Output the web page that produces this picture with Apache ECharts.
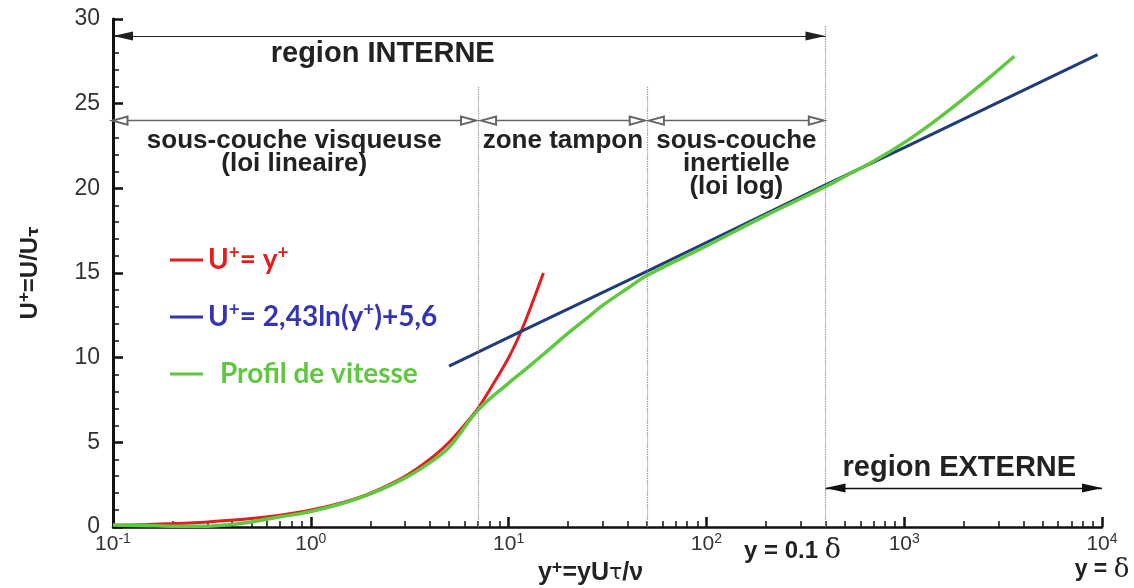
<!DOCTYPE html>
<html><head><meta charset="utf-8">
<script src="https://cdn.jsdelivr.net/npm/echarts@6/dist/echarts.min.js"></script>
<style>html,body{margin:0;padding:0;background:#fff}#c{width:1134px;height:588px}</style>
</head><body><div id="c"></div>
<script>
// ---- data ----
const yTicks = [0, 5, 10, 15, 20, 25, 30];
const linearX = [0.1, 0.15, 0.2, 0.3, 0.5, 0.7, 1, 1.5, 2, 3, 4, 5, 7, 10, 12, 15];
const linearY = [0.1, 0.15, 0.2, 0.3, 0.5, 0.7, 1, 1.5, 2, 3, 4, 5, 7, 10, 12, 15];
const logLawX = [5, 10, 50, 100, 400, 1000, 9500];
const logLawY = [9.5, 11.2, 15.1, 16.8, 20.2, 22.4, 27.9];
const profileX = [0.1, 0.15, 0.2, 0.3, 0.4, 0.5, 0.7, 1, 1.5, 2, 3, 4, 5, 7, 10, 12, 15, 20, 25, 30, 40, 50, 100, 200, 400, 500, 700, 1000, 1400, 2000, 2800, 3600];
const profileY = [0.12, 0.08, 0.05, 0.05, 0.15, 0.3, 0.6, 0.92, 1.45, 1.95, 2.9, 3.8, 4.7, 6.9, 8.5, 9.25, 10.2, 11.45, 12.35, 13.1, 14.1, 14.85, 16.6, 18.4, 20.1, 20.7, 21.6, 22.7, 23.9, 25.3, 26.7, 27.8];
const zoneBounds = [7, 50, 400];
const zoneTops = [26, 26, 29.6];
const seriesNames = ['U+= y+', 'U+= 2,43ln(y+)+5,6', 'Profil de vitesse'];
const legendRich = {
  'U+= y+': '{b|U}{s|+}{b|= y}{s|+}',
  'U+= 2,43ln(y+)+5,6': '{b|U}{s|+}{b|= 2,43ln(y}{s|+}{b|)+5,6}',
  'Profil de vitesse': '{p|Profil de vitesse}'
};

const RED = '#e41e1e', NAVY = '#1f3d78', LBLUE = '#3434b4', GREEN = '#5ec83f';
const zip = (xs, ys) => xs.map((x, i) => [x, ys[i]]);
const TXT = '#222';
const AF = 'Liberation Sans';

const filled = (c) => ({ coord: c, symbol: 'triangle', symbolSize: [9, 20], symbolOffset: [0, 10] });
const hollow = (c) => ({ coord: c, symbol: 'emptyTriangle', symbolSize: [8, 15], symbolOffset: [0, 7] });
const annLabel = (txt, pos) => ({ show: true, position: pos, formatter: txt, fontFamily: AF, fontWeight: 'bold', fontSize: 26, color: TXT, lineHeight: 23, distance: 9 });

const chart = echarts.init(document.getElementById('c'), null, { renderer: 'canvas' });
chart.setOption({
  backgroundColor: '#fff',
  animation: false,
  grid: { left: 113, right: 32, top: 19, bottom: 61, outerBoundsMode: 'none', containLabel: false },
  legend: {
    orient: 'vertical', left: 165, top: 238, itemGap: 23,
    icon: 'rect', itemWidth: 33, itemHeight: 3,
    selectedMode: false,
    data: [
      { name: seriesNames[0], itemStyle: { color: RED }, textStyle: { color: RED } },
      { name: seriesNames[1], itemStyle: { color: LBLUE }, textStyle: { color: LBLUE } },
      { name: seriesNames[2], itemStyle: { color: GREEN }, textStyle: { color: GREEN } }
    ],
    formatter: n => legendRich[n],
    textStyle: {
      fontFamily: 'Lato', fontWeight: 'bold', fontSize: 28, lineHeight: 34,
      rich: {
        b: { fontFamily: 'Lato', fontWeight: 'bold', fontSize: 28, lineHeight: 34 },
        p: { fontFamily: 'Lato', fontWeight: 'bold', fontSize: 28, lineHeight: 34, padding: [0, 0, 0, 12] },
        s: { fontFamily: 'Lato', fontWeight: 'bold', fontSize: 19, padding: [0, 0, 14, 0] }
      }
    }
  },
  xAxis: {
    type: 'log', logBase: 10, min: 0.1, max: 10000,
    axisLine: { lineStyle: { color: '#111', width: 2.5 } },
    axisTick: { inside: true, length: 10, lineStyle: { color: '#111', width: 2.5 } },
    minorTick: { show: true, splitNumber: 9, length: 6, lineStyle: { color: '#111', width: 1.5 } },
    splitLine: { show: false },
    axisLabel: {
      margin: 5, showMaxLabel: true, showMinLabel: true,
      formatter: v => {
        const e = Math.round(Math.log10(v));
        let s = '{n|10}{s|' + e + '}';
        if (e === 4) s += '\n{y|y = }{d|δ}';
        return s;
      },
      rich: {
        n: { fontFamily: AF, fontSize: 21, color: '#333' },
        s: { fontFamily: AF, fontSize: 14, color: '#333', padding: [0, 0, 10, 0] },
        y: { fontFamily: AF, fontSize: 23, fontWeight: 'bold', color: TXT, lineHeight: 28 },
        d: { fontFamily: 'DejaVu Serif', fontSize: 26, color: TXT, lineHeight: 28 }
      }
    },
    name: '{b|y}{s|+}{b|=yU}{t|τ}{b|/ν}',
    nameLocation: 'middle', nameGap: 32, nameMoveOverlap: false,
    nameTextStyle: {
      padding: [0, 34, 0, 0],
      rich: {
        b: { fontFamily: AF, fontWeight: 'bold', fontSize: 25, color: TXT },
        s: { fontFamily: AF, fontWeight: 'bold', fontSize: 18, color: TXT, padding: [0, 0, 11, 0] },
        t: { fontFamily: 'DejaVu Sans', fontSize: 22, color: TXT }
      }
    }
  },
  yAxis: {
    type: 'value', min: yTicks[0], max: yTicks[yTicks.length - 1], interval: 5,
    axisLine: { show: true, lineStyle: { color: '#111', width: 3 } },
    axisTick: { show: true, inside: true, length: 10, lineStyle: { color: '#111', width: 2.5 } },
    minorTick: { show: true, splitNumber: 5, length: 6, lineStyle: { color: '#111', width: 1.5 } },
    splitLine: { show: false },
    axisLabel: { margin: 13, fontFamily: AF, fontSize: 23, color: '#333' },
    name: '{b|U}{s|+}{b|=U/U}{t|τ}',
    nameLocation: 'middle', nameRotate: 90, nameGap: 68, nameMoveOverlap: false,
    nameTextStyle: {
      rich: {
        b: { fontFamily: AF, fontWeight: 'bold', fontSize: 24, color: TXT },
        s: { fontFamily: AF, fontWeight: 'bold', fontSize: 17, color: TXT, padding: [0, 0, 12, 0] },
        t: { fontFamily: 'DejaVu Sans', fontWeight: 'bold', fontSize: 16, color: TXT, padding: [6, 0, 0, 0] }
      }
    }
  },
  series: [
    {
      name: seriesNames[0], type: 'line', data: zip(linearX, linearY), showSymbol: false, smooth: 0.2,
      lineStyle: { color: RED, width: 3 }, itemStyle: { color: RED }, z: 3
    },
    {
      name: seriesNames[1], type: 'line', data: zip(logLawX, logLawY), showSymbol: false,
      lineStyle: { color: NAVY, width: 3 }, itemStyle: { color: NAVY }, z: 3
    },
    {
      name: seriesNames[2], type: 'line', data: zip(profileX, profileY), showSymbol: false, smooth: 0.35,
      lineStyle: { color: GREEN, width: 3.5 }, itemStyle: { color: GREEN }, z: 4
    },
    {
      name: 'annotations', type: 'line', data: [], silent: true, z: 2,
      markLine: {
        silent: true, animation: false, symbol: 'none',
        lineStyle: { color: '#888', type: 'dotted', width: 1.2 },
        label: { show: false },
        data: zoneBounds.map((b, i) => [{ coord: [b, 0] }, { coord: [b, zoneTops[i]] }])
      }
    },
    {
      name: 'arrows', type: 'line', data: [], silent: true, z: 2,
      markLine: {
        silent: true, animation: false,
        lineStyle: { color: '#666', type: 'solid', width: 1.4 },
        label: { show: false },
        data: [
          [Object.assign(filled([0.1, 29]), { lineStyle: { color: '#222', width: 1.2 } }), filled([400, 29])],
          [Object.assign(hollow([0.1, 24]), { label: annLabel('sous-couche visqueuse\n(loi lineaire)', 'insideMiddleBottom') }), hollow([6.8, 24])],
          [Object.assign(hollow([7.3, 24]), { label: annLabel('zone tampon', 'insideMiddleBottom') }), hollow([48.5, 24])],
          [Object.assign(hollow([51.5, 24]), { label: annLabel('sous-couche\ninertielle\n(loi log)', 'insideMiddleBottom') }), hollow([390, 24])],
          [Object.assign(filled([400, 2.3]), { lineStyle: { color: '#111', width: 1.4 } }), filled([10000, 2.3])]
        ]
      },
      markPoint: {
        silent: true, animation: false, symbol: 'circle', symbolSize: 0,
        data: [
          { coord: [2.31, 27.95], label: { show: true, position: 'inside', formatter: 'region INTERNE', fontFamily: AF, fontWeight: 'bold', fontSize: 29, color: TXT } },
          { coord: [1900, 3.5], label: { show: true, position: 'inside', formatter: 'region EXTERNE', fontFamily: AF, fontWeight: 'bold', fontSize: 29, color: TXT } },
          { coord: [400, 0], label: { show: true, position: 'inside', offset: [-33, 24], formatter: '{y|y = 0.1 }{d|δ}',
              rich: { y: { fontFamily: AF, fontWeight: 'bold', fontSize: 24, color: TXT }, d: { fontFamily: 'DejaVu Serif', fontSize: 27, color: TXT } } } }
        ]
      }
    }
  ]
});
</script>
</body></html>
